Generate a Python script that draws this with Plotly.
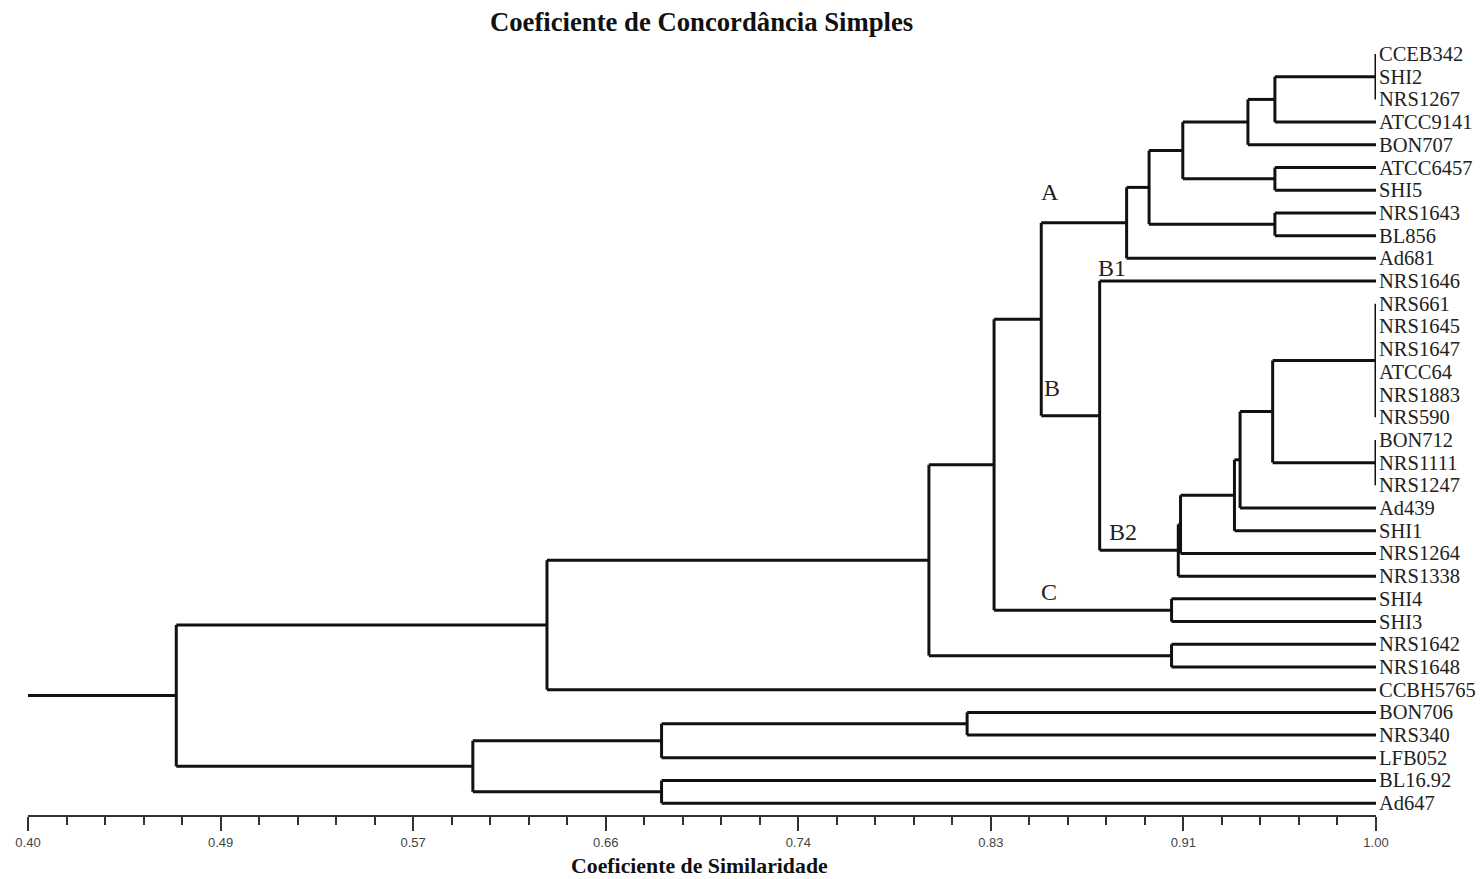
import plotly.graph_objects as go

# ---------------- data ----------------
leaves = ["CCEB342", "SHI2", "NRS1267", "ATCC9141", "BON707", "ATCC6457", "SHI5",
          "NRS1643", "BL856", "Ad681", "NRS1646", "NRS661", "NRS1645", "NRS1647",
          "ATCC64", "NRS1883", "NRS590", "BON712", "NRS1111", "NRS1247", "Ad439",
          "SHI1", "NRS1264", "NRS1338", "SHI4", "SHI3", "NRS1642", "NRS1648",
          "CCBH5765", "BON706", "NRS340", "LFB052", "BL16.92", "Ad647"]

# node id -> (children, similarity at which they join)
node_ids = ["n1", "n2", "n3", "n4", "n5", "n6", "n7", "n8", "n9", "n10", "n11", "n12",
            "n13", "n14", "n15", "n16", "n17", "n18", "n19", "n20", "n21", "n22",
            "n23", "n24", "n25", "n26", "n27"]
node_children = [
    ["CCEB342", "SHI2", "NRS1267"],
    ["n1", "ATCC9141"],
    ["n2", "BON707"],
    ["ATCC6457", "SHI5"],
    ["n3", "n4"],
    ["NRS1643", "BL856"],
    ["n5", "n6"],
    ["n7", "Ad681"],
    ["NRS661", "NRS1645", "NRS1647", "ATCC64", "NRS1883", "NRS590"],
    ["BON712", "NRS1111", "NRS1247"],
    ["n9", "n10"],
    ["n11", "Ad439"],
    ["n12", "SHI1"],
    ["n13", "NRS1264"],
    ["n14", "NRS1338"],
    ["NRS1646", "n15"],
    ["n8", "n16"],
    ["SHI4", "SHI3"],
    ["n17", "n18"],
    ["NRS1642", "NRS1648"],
    ["n19", "n20"],
    ["n21", "CCBH5765"],
    ["BON706", "NRS340"],
    ["n23", "LFB052"],
    ["BL16.92", "Ad647"],
    ["n24", "n25"],
    ["n22", "n26"],
]
node_heights = [1.000, 0.955, 0.943, 0.955, 0.914, 0.955, 0.899, 0.889,
                1.000, 1.000, 0.954, 0.9395, 0.937, 0.913, 0.912, 0.877,
                0.851, 0.909, 0.830, 0.909, 0.801, 0.631, 0.818, 0.682,
                0.682, 0.598, 0.466]
root_start = 0.40

tick_vals = [0.40 + k * 0.6 / 7 for k in range(8)]
tick_text = ["0.40", "0.49", "0.57", "0.66", "0.74", "0.83", "0.91", "1.00"]

group_labels = ["A", "B", "B1", "B2", "C"]
group_x = [0.855, 0.856, 0.8825, 0.8874, 0.8545]
group_y = [6.08, 14.7, 9.43, 21.06, 23.7]

# ---------------- build dendrogram segments ----------------
pos = {name: (1.0, float(i)) for i, name in enumerate(leaves)}
xs, ys = [], []
for nid, ch, h in zip(node_ids, node_children, node_heights):
    cy = []
    for c in ch:
        cx, yy = pos[c]
        cy.append(yy)
        if cx != h:
            xs += [cx, h, None]
            ys += [yy, yy, None]
    xs += [h, h, None]
    ys += [min(cy), max(cy), None]
    pos[nid] = (h, (min(cy) + max(cy)) / 2)

rx, ry = pos[node_ids[-1]]
xs += [rx, root_start, None]
ys += [ry, ry, None]

fig = go.Figure()
fig.add_trace(go.Scatter(x=xs, y=ys, mode="lines",
                         line=dict(color="#111111", width=3),
                         hoverinfo="skip", showlegend=False))

serif = "Liberation Serif, Times New Roman, serif"
for i, name in enumerate(leaves):
    fig.add_annotation(x=1.0, y=i, text=name, xanchor="left", yanchor="middle",
                       xshift=1, showarrow=False,
                       font=dict(family=serif, size=20.5, color="#222222"))

for t, gx, gy in zip(group_labels, group_x, group_y):
    fig.add_annotation(x=gx, y=gy, text=t, showarrow=False,
                       xanchor="center", yanchor="middle",
                       font=dict(family=serif, size=24, color="#222222"))

fig.add_annotation(xref="paper", yref="paper", x=0.4993, y=1, yanchor="bottom",
                   yshift=1, showarrow=False,
                   text="<b>Coeficiente de Concordância Simples</b>",
                   font=dict(family=serif, size=26.7, color="#111111"))
fig.add_annotation(xref="paper", yref="paper", x=0.4985, y=0, yanchor="top",
                   yshift=-37, showarrow=False,
                   text="<b>Coeficiente de Similaridade</b>",
                   font=dict(family=serif, size=21.8, color="#111111"))

fig.update_layout(
    width=1476, height=871,
    margin=dict(l=20, r=108, t=32, b=64, autoexpand=False),
    paper_bgcolor="white", plot_bgcolor="white",
    xaxis=dict(range=[0.40, 1.00], showgrid=False, zeroline=False, automargin=False,
               showline=True, linecolor="#333333", linewidth=2,
               tickmode="array", tickvals=tick_vals, ticktext=tick_text,
               ticks="outside", ticklen=14, tickwidth=2, tickcolor="#333333",
               tickfont=dict(family="Liberation Sans, Arial, sans-serif", size=13, color="#444444"),
               minor=dict(tick0=0.40, dtick=0.6 / 35, ticks="outside", ticklen=8,
                          tickwidth=2, tickcolor="#333333", showgrid=False)),
    yaxis=dict(range=[33.52, -0.617], visible=False, showgrid=False, zeroline=False,
               automargin=False),
)

fig.write_html("out.html")
